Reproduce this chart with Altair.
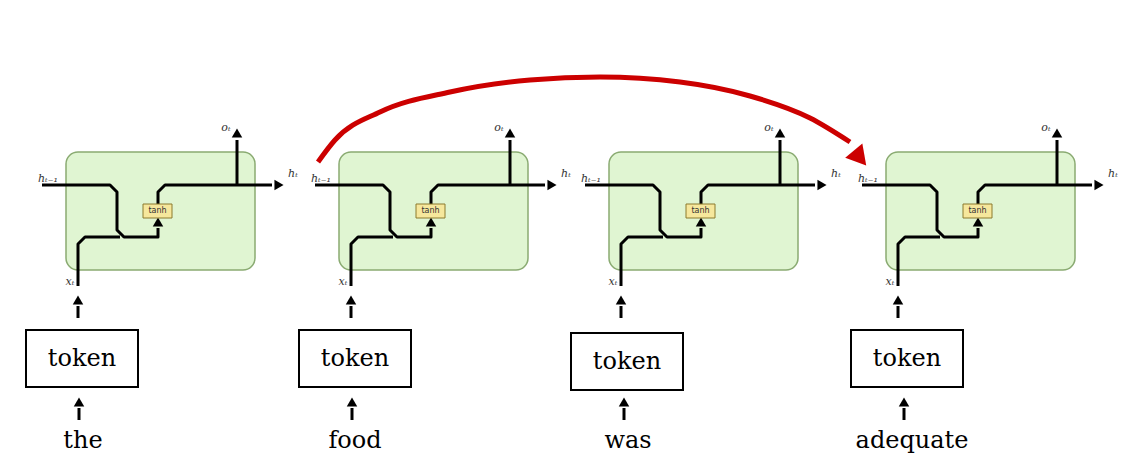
import altair as alt
import pandas as pd

# cell layout (pixel positions)
cell_dx = [0, 273, 543, 820]
token_cx = [82, 355, 627, 907]
token_top = [330, 330, 333, 330]
words = ["the", "food", "was", "adequate"]
word_x = [83, 355, 628, 912]

# template paths for one cell, relative to the first cell
paths = {
    "hin": [(42, 185), (110, 185), (117, 192), (117, 230), (124, 237), (158, 237), (158, 228)],
    "xin": [(78, 286), (78, 244), (85, 237), (120, 237)],
    "out": [(158, 205), (158, 192), (165, 185), (272, 185)],
    "o": [(237, 185), (237, 140)],
    "a1": [(78, 318), (78, 306)],
}
heads = [(158, 222, 0), (279, 185, 90), (237, 133, 0), (78, 300, 0)]

# red skip arrow
arc_x = [318, 335, 380, 450, 530, 600, 680, 750, 810, 850]
arc_y = [162, 140, 112, 92, 80, 77, 82, 96, 118, 142]

X = alt.Scale(domain=[8, 1120])
Y = alt.Scale(domain=[8, 458], reverse=True)

rows, hd, boxes, tanh, tok, labels, small = [], [], [], [], [], [], []
for i, dx in enumerate(cell_dx):
    for name, pts in paths.items():
        for k, (x, y) in enumerate(pts):
            rows.append({"pid": f"{name}{i}", "k": k, "x": x + dx, "y": y})
    for (x, y, a) in heads:
        hd.append({"x": x + dx, "y": y, "a": a})
    boxes.append({"x": 66 + dx, "x2": 255 + dx, "y": 152, "y2": 270})
    tanh.append({"x": 143 + dx, "x2": 172 + dx, "y": 204, "y2": 218, "cx": 157.5 + dx, "cy": 211})
    cx, ty = token_cx[i], token_top[i]
    tok.append({"x": cx - 56, "x2": cx + 56, "y": ty, "y2": ty + 57, "cx": cx, "cy": ty + 29})
    wx = word_x[i]
    rows.append({"pid": f"w{i}", "k": 0, "x": cx - 3, "y": 420})
    rows.append({"pid": f"w{i}", "k": 1, "x": cx - 3, "y": 408})
    hd.append({"x": cx - 3, "y": 402, "a": 0})
    labels.append({"x": wx, "y": 441, "t": words[i]})
    small += [
        {"x": 48 + dx, "y": 179, "t": "hₜ₋₁"},
        {"x": 293 + dx, "y": 174, "t": "hₜ"},
        {"x": 70 + dx, "y": 282, "t": "xₜ"},
        {"x": 226 + dx, "y": 128, "t": "oₜ"},
    ]

lines = pd.DataFrame(rows)
base_x = lambda f: alt.X(f"{f}:Q", scale=X, axis=None)
base_y = lambda f: alt.Y(f"{f}:Q", scale=Y, axis=None)

cells = alt.Chart(pd.DataFrame(boxes)).mark_rect(
    cornerRadius=12, fill="#e0f5d2", stroke="#8aab72", strokeWidth=1.5
).encode(x=base_x("x"), x2="x2:Q", y=base_y("y"), y2="y2:Q")

wires = alt.Chart(lines).mark_line(
    color="black", strokeWidth=3, strokeCap="butt", strokeJoin="round"
).encode(x=base_x("x"), y=base_y("y"), detail="pid:N", order="k:Q")

arrowheads = alt.Chart(pd.DataFrame(hd)).mark_point(
    shape="triangle-up", filled=True, color="black", opacity=1, size=110
).encode(x=base_x("x"), y=base_y("y"), angle=alt.Angle("a:Q", scale=None))

tanh_df = pd.DataFrame(tanh)
tanh_box = alt.Chart(tanh_df).mark_rect(
    fill="#f6e79c", stroke="#8c7a2e", strokeWidth=1
).encode(x=base_x("x"), x2="x2:Q", y=base_y("y"), y2="y2:Q")
tanh_txt = alt.Chart(tanh_df).mark_text(
    text="tanh", fontSize=8, font="DejaVu Sans", color="#333"
).encode(x=base_x("cx"), y=base_y("cy"))

tok_df = pd.DataFrame(tok)
tok_box = alt.Chart(tok_df).mark_rect(
    fill="white", stroke="black", strokeWidth=2
).encode(x=base_x("x"), x2="x2:Q", y=base_y("y"), y2="y2:Q")
tok_txt = alt.Chart(tok_df).mark_text(
    text="token", fontSize=24, font="DejaVu Serif", color="black"
).encode(x=base_x("cx"), y=base_y("cy"))

word_txt = alt.Chart(pd.DataFrame(labels)).mark_text(
    fontSize=24, font="DejaVu Serif", color="black"
).encode(x=base_x("x"), y=base_y("y"), text="t:N")

sym_txt = alt.Chart(pd.DataFrame(small)).mark_text(
    fontSize=11, font="DejaVu Serif", fontStyle="italic", color="#333"
).encode(x=base_x("x"), y=base_y("y"), text="t:N")

arc = alt.Chart(pd.DataFrame({"x": arc_x, "y": arc_y, "k": range(len(arc_x))})).mark_line(
    color="#cc0000", strokeWidth=5, interpolate="monotone"
).encode(x=base_x("x"), y=base_y("y"), order="k:Q")
arc_head = alt.Chart(pd.DataFrame({"x": [860], "y": [158], "a": [140]})).mark_point(
    shape="triangle-up", filled=True, color="#cc0000", opacity=1, size=500
).encode(x=base_x("x"), y=base_y("y"), angle=alt.Angle("a:Q", scale=None))

chart = alt.layer(
    cells, wires, arrowheads, tanh_box, tanh_txt, tok_box, tok_txt, word_txt, sym_txt, arc, arc_head
).properties(
    width=1112, height=450, autosize=alt.AutoSizeParams(type="none"), padding=0
).configure_view(stroke=None)

chart.save("out.html", embed_options={"renderer": "svg", "actions": False})
